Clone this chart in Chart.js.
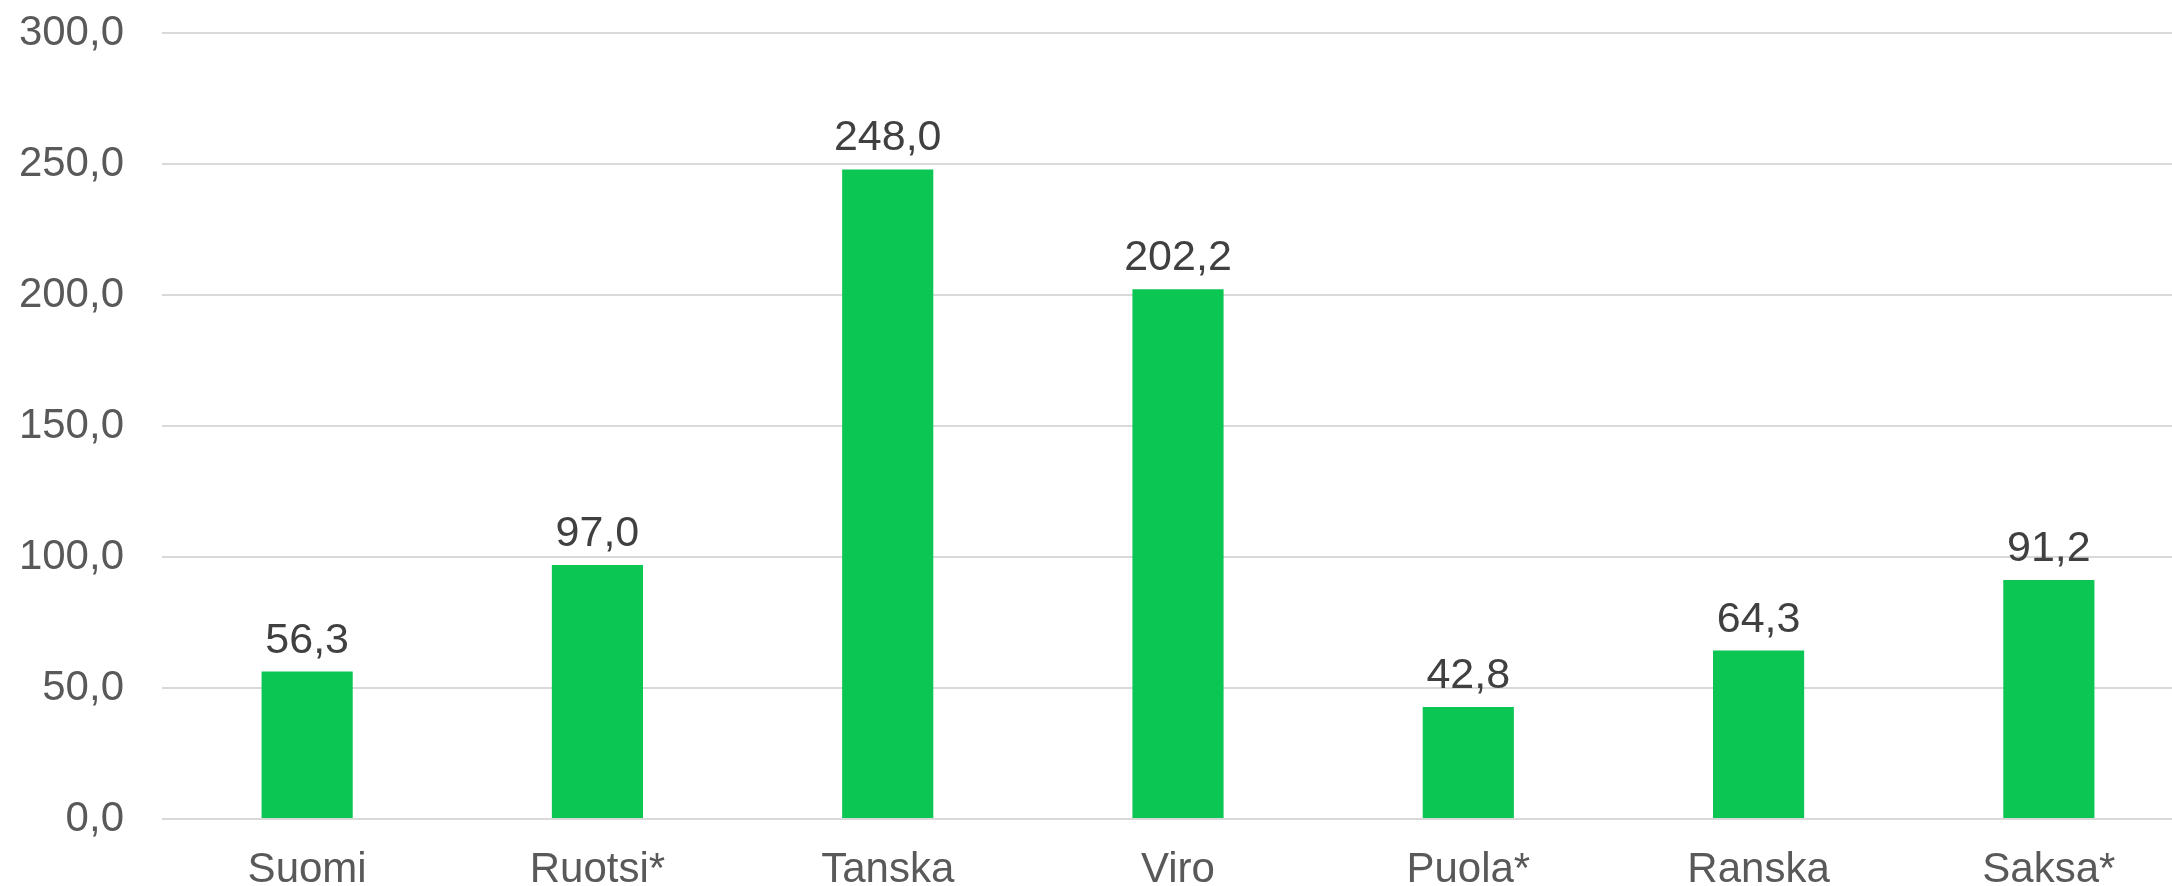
<!DOCTYPE html>
<html>
<head>
<meta charset="utf-8">
<script src="https://cdn.jsdelivr.net/npm/chart.js@4"></script>
<style>
  html, body { margin: 0; padding: 0; background: #fff; overflow: hidden; }
  #wrap { width: 2194px; height: 925px; margin-top: -30px; position: relative; }
</style>
</head>
<body>
<div id="wrap"><canvas id="barChart"></canvas></div>
<script>
// Categories and values
const countries = ['Suomi', 'Ruotsi*', 'Tanska', 'Viro', 'Puola*', 'Ranska', 'Saksa*'];
const values = [56.3, 97.0, 248.0, 202.2, 42.8, 64.3, 91.2];
const yTicks = [0, 50, 100, 150, 200, 250, 300];

const fmt = v => v.toFixed(1).replace('.', ',');

// Value labels above the bars
const valueLabels = {
    id: 'valueLabels',
    afterDatasetsDraw(chart) {
        const ctx = chart.ctx;
        const meta = chart.getDatasetMeta(0);
        ctx.save();
        ctx.font = "43px 'Liberation Sans', Arial, sans-serif";
        ctx.fillStyle = '#404040';
        ctx.textAlign = 'center';
        ctx.textBaseline = 'alphabetic';
        meta.data.forEach((bar, i) => {
            ctx.fillText(fmt(values[i]), bar.x, bar.y - 19);
        });
        ctx.restore();
    }
};

Chart.defaults.font.family = "'Liberation Sans', Arial, sans-serif";

new Chart(document.getElementById('barChart'), {
    type: 'bar',
    data: {
        labels: countries,
        datasets: [{
            data: values,
            backgroundColor: '#0BC652',
            borderWidth: 0,
            categoryPercentage: 1,
            barPercentage: 0.314
        }]
    },
    options: {
        responsive: true,
        maintainAspectRatio: false,
        animation: false,
        layout: {
            padding: { left: 20, right: 0, top: 0, bottom: 0 }
        },
        plugins: {
            legend: { display: false },
            tooltip: { enabled: false }
        },
        scales: {
            x: {
                grid: { display: false, drawTicks: false },
                border: { display: false },
                afterFit: axis => { axis.height = 76; },
                ticks: {
                    padding: 26,
                    color: '#595959',
                    font: { size: 42 }
                }
            },
            y: {
                min: 0,
                max: 300,
                afterBuildTicks: axis => {
                    axis.ticks = yTicks.map(v => ({ value: v }));
                },
                afterFit: axis => { axis.width = 142; },
                grid: { color: '#D9D9D9', lineWidth: 2, drawTicks: false },
                border: { display: false },
                ticks: {
                    padding: 38,
                    color: '#595959',
                    font: { size: 42 },
                    callback: v => fmt(v)
                }
            }
        }
    },
    plugins: [valueLabels]
});
</script>
</body>
</html>
